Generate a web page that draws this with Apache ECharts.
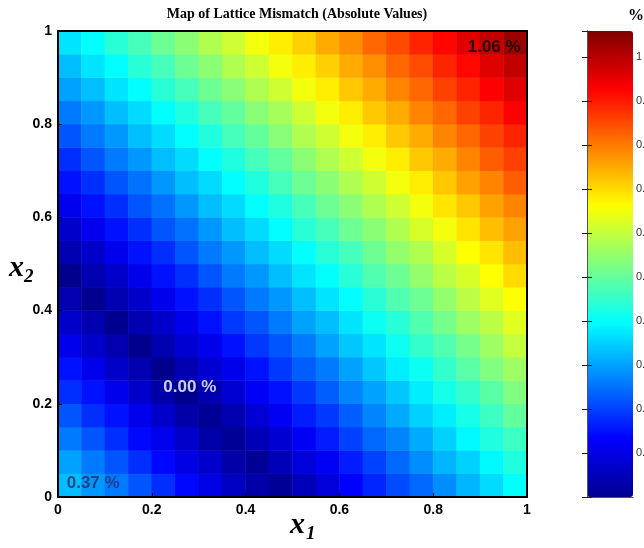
<!DOCTYPE html>
<html><head><meta charset="utf-8">
<script src="https://cdn.jsdelivr.net/npm/echarts@6/dist/echarts.min.js"></script>
<style>html,body{margin:0;padding:0;background:#fff}#c{width:644px;height:548px}</style>
</head><body><div id="c"></div>
<script>
// cell centres along x1 and x2 (each cell is 0.05 wide)
const x1Centers = ['0.025','0.075','0.125','0.175','0.225','0.275','0.325','0.375','0.425','0.475','0.525','0.575','0.625','0.675','0.725','0.775','0.825','0.875','0.925','0.975'];
const x2Centers = ['0.025','0.075','0.125','0.175','0.225','0.275','0.325','0.375','0.425','0.475','0.525','0.575','0.625','0.675','0.725','0.775','0.825','0.875','0.925','0.975'];
// |lattice mismatch| in %, one inner list per x1 column, listed from x2 = 0.025 up to 0.975
const mismatchByX1 = [
[0.33,0.30,0.26,0.22,0.18,0.15,0.11,0.07,0.04,0.00,0.04,0.07,0.11,0.15,0.18,0.22,0.26,0.30,0.33,0.37],
[0.29,0.26,0.22,0.18,0.15,0.11,0.07,0.04,0.00,0.04,0.07,0.11,0.15,0.18,0.22,0.26,0.29,0.33,0.37,0.40],
[0.26,0.22,0.18,0.15,0.11,0.07,0.04,0.00,0.04,0.07,0.11,0.15,0.18,0.22,0.26,0.29,0.33,0.37,0.40,0.44],
[0.22,0.18,0.14,0.11,0.07,0.04,0.00,0.04,0.07,0.11,0.15,0.18,0.22,0.25,0.29,0.33,0.36,0.40,0.44,0.47],
[0.18,0.14,0.11,0.07,0.03,0.00,0.04,0.07,0.11,0.15,0.18,0.22,0.25,0.29,0.33,0.36,0.40,0.44,0.47,0.51],
[0.14,0.10,0.07,0.03,0.00,0.04,0.08,0.11,0.15,0.18,0.22,0.25,0.29,0.33,0.36,0.40,0.43,0.47,0.51,0.54],
[0.10,0.07,0.03,0.01,0.04,0.08,0.11,0.15,0.18,0.22,0.26,0.29,0.33,0.36,0.40,0.43,0.47,0.51,0.54,0.58],
[0.06,0.03,0.01,0.04,0.08,0.11,0.15,0.19,0.22,0.26,0.29,0.33,0.36,0.40,0.43,0.47,0.50,0.54,0.58,0.61],
[0.03,0.01,0.05,0.08,0.12,0.15,0.19,0.22,0.26,0.29,0.33,0.36,0.40,0.43,0.47,0.50,0.54,0.58,0.61,0.65],
[0.01,0.05,0.08,0.12,0.15,0.19,0.22,0.26,0.29,0.33,0.36,0.40,0.43,0.47,0.50,0.54,0.57,0.61,0.65,0.68],
[0.05,0.09,0.12,0.16,0.19,0.23,0.26,0.30,0.33,0.37,0.40,0.44,0.47,0.51,0.54,0.58,0.61,0.65,0.68,0.71],
[0.09,0.12,0.16,0.19,0.23,0.26,0.30,0.33,0.37,0.40,0.44,0.47,0.51,0.54,0.58,0.61,0.65,0.68,0.71,0.75],
[0.13,0.16,0.20,0.23,0.27,0.30,0.34,0.37,0.40,0.44,0.47,0.51,0.54,0.58,0.61,0.65,0.68,0.72,0.75,0.78],
[0.17,0.20,0.24,0.27,0.30,0.34,0.37,0.41,0.44,0.48,0.51,0.54,0.58,0.61,0.65,0.68,0.72,0.75,0.78,0.82],
[0.21,0.24,0.27,0.31,0.34,0.38,0.41,0.44,0.48,0.51,0.55,0.58,0.61,0.65,0.68,0.72,0.75,0.79,0.82,0.85],
[0.24,0.28,0.31,0.35,0.38,0.41,0.45,0.48,0.51,0.55,0.58,0.62,0.65,0.68,0.72,0.75,0.79,0.82,0.85,0.89],
[0.28,0.32,0.35,0.38,0.42,0.45,0.48,0.52,0.55,0.59,0.62,0.65,0.69,0.72,0.75,0.79,0.82,0.86,0.89,0.92],
[0.32,0.35,0.39,0.42,0.45,0.49,0.52,0.56,0.59,0.62,0.66,0.69,0.72,0.76,0.79,0.82,0.86,0.89,0.92,0.96],
[0.36,0.39,0.43,0.46,0.49,0.53,0.56,0.59,0.63,0.66,0.69,0.73,0.76,0.79,0.83,0.86,0.89,0.93,0.96,0.99],
[0.40,0.43,0.46,0.50,0.53,0.56,0.60,0.63,0.66,0.70,0.73,0.76,0.79,0.83,0.86,0.89,0.93,0.96,0.99,1.03]
];
const colorMin = 0;
const colorMax = 1.06;
const annotationText = ['1.06 %', '0.00 %', '0.37 %'];
const annotationX1 = [0.93, 0.281, 0.075];
const annotationX2 = [0.966, 0.236, 0.030];

const jet = ['#00008f','#0000ff','#0080ff','#00ffff','#80ff80','#ffff00','#ff8000','#ff0000','#800000'];
const annColors = ['#000000', '#ffffff', '#2b2b6b'];

const heatData = [];
mismatchByX1.forEach((col, i) => col.forEach((v, k) => heatData.push([i, k, v])));
const annData = annotationText.map((t, j) => ({value: [annotationX1[j], annotationX2[j]], name: t,
  label: {color: annColors[j]}}));

const tickFont = {fontFamily: 'Liberation Sans, Arial', fontWeight: 'bold', fontSize: 14, color: '#000'};
const G = {left: 58, top: 31, width: 469, height: 466};
const CB = {left: 587, top: 31, width: 46, height: 466};

const chart = echarts.init(document.getElementById('c'), null, {renderer: 'canvas'});
chart.setOption({
  animation: false,
  backgroundColor: '#fff',
  title: {text: 'Map of Lattice Mismatch (Absolute Values)', left: 292, top: 2, textAlign: 'center',
    textStyle: {fontFamily: 'Liberation Serif, Times New Roman', fontWeight: 'bold', fontSize: 14, color: '#000'}},
  grid: [
    {left: G.left, top: G.top, width: G.width, height: G.height, outerBoundsMode: 'none', containLabel: false},
    {left: CB.left, top: CB.top, width: CB.width, height: CB.height, outerBoundsMode: 'none', containLabel: false}
  ],
  xAxis: [
    {type: 'category', gridIndex: 0, data: x1Centers, show: false},
    {type: 'value', gridIndex: 0, min: 0, max: 1, interval: 0.2, position: 'bottom', z: 10,
      axisLine: {show: true, lineStyle: {color: '#000', width: 2}},
      axisTick: {show: true, inside: true, length: 4, lineStyle: {color: '#000'}},
      axisLabel: Object.assign({margin: 6}, tickFont), splitLine: {show: false}},
    {type: 'value', gridIndex: 0, min: 0, max: 1, position: 'top', z: 10,
      axisLine: {show: true, lineStyle: {color: '#000', width: 2}},
      axisTick: {show: false}, axisLabel: {show: false}, splitLine: {show: false}},
    {type: 'value', gridIndex: 1, min: 0, max: 1, position: 'bottom', z: 10,
      axisLine: {show: true, lineStyle: {color: '#555', width: 1}},
      axisTick: {show: false}, axisLabel: {show: false}, splitLine: {show: false}},
    {type: 'value', gridIndex: 1, min: 0, max: 1, position: 'top', z: 10,
      axisLine: {show: true, lineStyle: {color: '#555', width: 1}},
      axisTick: {show: false}, axisLabel: {show: false}, splitLine: {show: false}}
  ],
  yAxis: [
    {type: 'category', gridIndex: 0, data: x2Centers, show: false},
    {type: 'value', gridIndex: 0, min: 0, max: 1, interval: 0.2, position: 'left', z: 10,
      axisLine: {show: true, lineStyle: {color: '#000', width: 2}},
      axisTick: {show: true, inside: true, length: 4, lineStyle: {color: '#000'}},
      axisLabel: Object.assign({margin: 6}, tickFont), splitLine: {show: false}},
    {type: 'value', gridIndex: 0, min: 0, max: 1, position: 'right', z: 10,
      axisLine: {show: true, lineStyle: {color: '#000', width: 2}},
      axisTick: {show: false}, axisLabel: {show: false}, splitLine: {show: false}},
    {type: 'value', gridIndex: 1, min: colorMin, max: colorMax, interval: 0.1, position: 'left', z: 10,
      axisLine: {show: true, lineStyle: {color: '#555', width: 1}},
      axisTick: {show: true, inside: true, length: 5, lineStyle: {color: '#222'}},
      axisLabel: {show: false}, splitLine: {show: false}},
    {type: 'value', gridIndex: 1, min: colorMin, max: colorMax, interval: 0.1, position: 'right', z: 10,
      axisLine: {show: true, lineStyle: {color: '#555', width: 1}},
      axisTick: {show: true, inside: true, length: 5, lineStyle: {color: '#222'}},
      axisLabel: {show: true, inside: false, margin: 3, fontFamily: 'Liberation Sans, Arial', fontSize: 11, color: '#333',
        formatter: v => {const r = Math.round(v * 10) / 10; return (Math.abs(v - r) < 1e-6 && r > 0) ? String(r) : '';}},
      splitLine: {show: false}}
  ],
  visualMap: {
    type: 'continuous', min: colorMin, max: colorMax, seriesIndex: 0, calculable: false, z: 1,
    orient: 'vertical', left: CB.left, top: CB.top, itemWidth: CB.width, itemHeight: CB.height,
    padding: 0, text: null, showLabel: false, hoverLink: false,
    inRange: {color: jet}
  },
  series: [
    {type: 'heatmap', xAxisIndex: 0, yAxisIndex: 0, data: heatData, itemStyle: {borderWidth: 0},
      emphasis: {disabled: true}, progressive: 0, z: 1},
    {type: 'scatter', xAxisIndex: 1, yAxisIndex: 1, data: annData, symbolSize: 0, z: 20,
      label: {show: true, position: 'inside', formatter: p => p.name,
        fontFamily: 'Liberation Sans, Arial', fontWeight: 'bold', fontSize: 17}}
  ],
  graphic: [
    {type: 'text', left: 290, top: 510, z: 30, style: {text: 'x', fontFamily: 'Liberation Serif, Times New Roman', fontStyle: 'italic', fontWeight: 'bold', fontSize: 30, fill: '#000'}},
    {type: 'text', left: 306, top: 525, z: 30, style: {text: '1', fontFamily: 'Liberation Serif, Times New Roman', fontStyle: 'italic', fontWeight: 'bold', fontSize: 19, fill: '#000'}},
    {type: 'text', left: 9, top: 253, z: 30, style: {text: 'x', fontFamily: 'Liberation Serif, Times New Roman', fontStyle: 'italic', fontWeight: 'bold', fontSize: 30, fill: '#000'}},
    {type: 'text', left: 24, top: 268, z: 30, style: {text: '2', fontFamily: 'Liberation Serif, Times New Roman', fontStyle: 'italic', fontWeight: 'bold', fontSize: 19, fill: '#000'}},
    {type: 'text', left: 628, top: 8, z: 30, style: {text: '%', fontFamily: 'Liberation Serif, Times New Roman', fontWeight: 'bold', fontSize: 16, fill: '#000'}}
  ]
});
</script></body></html>
